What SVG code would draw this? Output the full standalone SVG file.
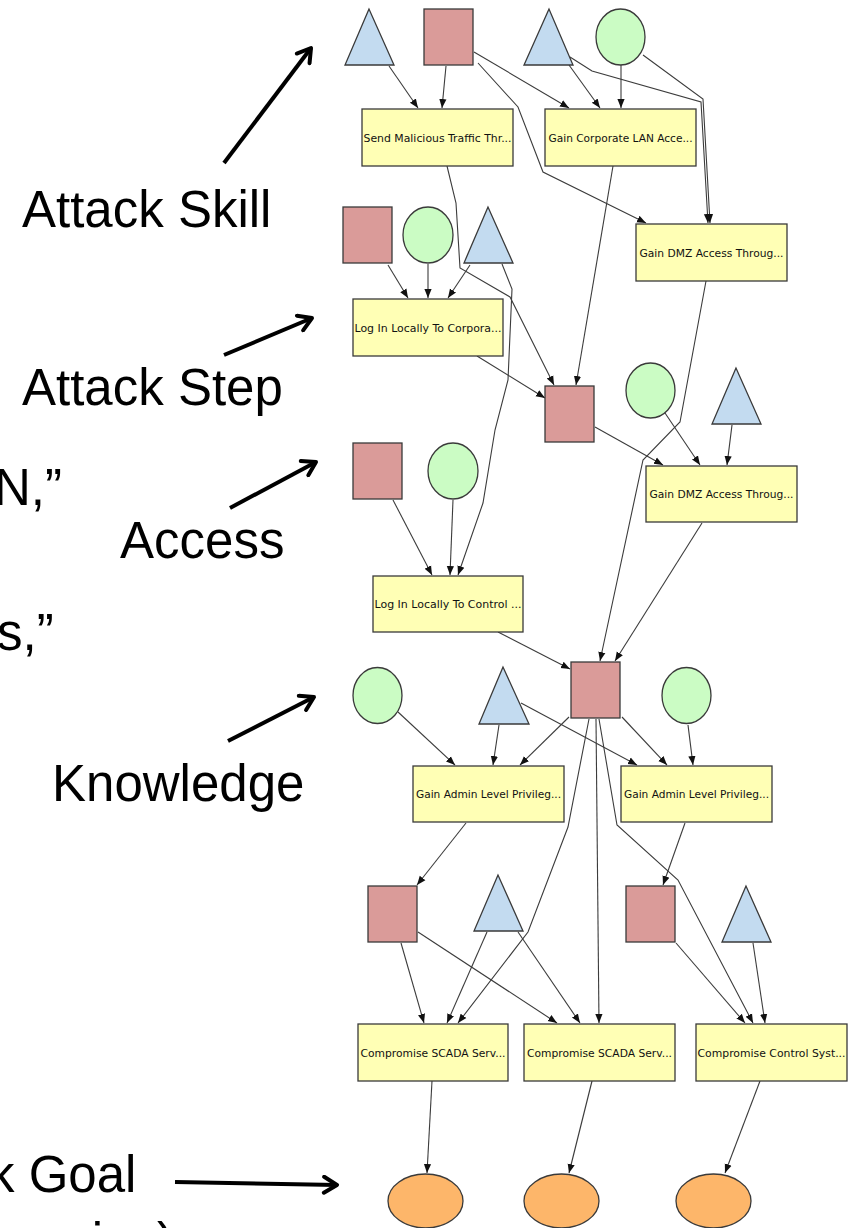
<svg xmlns="http://www.w3.org/2000/svg" width="853" height="1228" viewBox="0 0 853 1228">
<style>
.big{font-family:"Liberation Sans",Arial,sans-serif;font-size:51px;fill:#000}
.ptr{stroke:#000;stroke-width:4;fill:none}
.sq{fill:#da9b99;stroke:#3a3a3a;stroke-width:1.3}
.tri{fill:#c3dbf0;stroke:#3a3a3a;stroke-width:1.3}
.cir{fill:#cbfcc4;stroke:#3a3a3a;stroke-width:1.3}
.box{fill:#ffffb5;stroke:#3a3a3a;stroke-width:1.3}
.goal{fill:#fdb66a;stroke:#3a3a3a;stroke-width:1.3}
.lbl{font-family:"DejaVu Sans",Verdana,sans-serif;font-size:10.5px;fill:#111;text-anchor:middle}
.e{stroke:#3c3c3c;stroke-width:1.1;fill:none;marker-end:url(#ah)}
</style>
<defs>
<marker id="ah" viewBox="0 0 10 10" refX="10" refY="5" markerWidth="9" markerHeight="9" markerUnits="userSpaceOnUse" orient="auto">
<path d="M0,1 L10,5 L0,9 z" fill="#111"/>
</marker>
<marker id="ch" viewBox="0 0 20 20" refX="17" refY="10" markerWidth="20" markerHeight="20" markerUnits="userSpaceOnUse" orient="auto">
<path d="M4,2 L17,10 L4,18" fill="none" stroke="#000" stroke-width="4" stroke-linecap="round" stroke-linejoin="round"/>
</marker>
</defs>
<rect width="853" height="1228" fill="#fff"/>

<g id="annotations">
<text class="big" x="22" y="227">Attack Skill</text>
<text class="big" x="22" y="405">Attack Step</text>
<text class="big" x="-6" y="505">N,”</text>
<text class="big" x="120" y="558">Access</text>
<text class="big" x="-3" y="650">s,”</text>
<text class="big" x="52" y="801">Knowledge</text>
<text class="big" x="-11" y="1192">k Goal</text>
<text class="big" x="174" y="1259" text-anchor="end">promise)</text>
<path class="ptr" d="M224,163 L311,48" marker-end="url(#ch)"/>
<path class="ptr" d="M224,355 L312,318" marker-end="url(#ch)"/>
<path class="ptr" d="M230,508 L316,462" marker-end="url(#ch)"/>
<path class="ptr" d="M228,741 L314,697" marker-end="url(#ch)"/>
<path class="ptr" d="M175,1182 L337,1185" marker-end="url(#ch)"/>
</g>

<g id="connectors">
<path class="e" d="M389,66 L418,108"/>
<path class="e" d="M446,66 L442,108"/>
<path class="e" d="M474,52 L569,108"/>
<path class="e" d="M478,63 L518,107 L543,172 L646,223"/>
<path class="e" d="M569,65 L600,108"/>
<path class="e" d="M621,65 L621,108"/>
<path class="e" d="M570,57 L592,71 L701,102 L708,223"/>
<path class="e" d="M643,55 L703,99 L710,223"/>
<path class="e" d="M447,166 L456,203 L460,268 L510,297 L554,385"/>
<path class="e" d="M613,166 L576,385"/>
<path class="e" d="M388,265 L408,298"/>
<path class="e" d="M428,264 L428,298"/>
<path class="e" d="M470,265 L448,298"/>
<path class="e" d="M502,264 L512,289 L508,380 L495,430 L483,503 L458,575"/>
<path class="e" d="M477,356 L545,398"/>
<path class="e" d="M706,281 L680,422 L643,460 L600,661"/>
<path class="e" d="M665,413 L700,465"/>
<path class="e" d="M595,427 L663,465"/>
<path class="e" d="M732,425 L727,465"/>
<path class="e" d="M393,500 L432,575"/>
<path class="e" d="M453,500 L450,575"/>
<path class="e" d="M498,632 L570,669"/>
<path class="e" d="M702,523 L615,661"/>
<path class="e" d="M398,712 L455,765"/>
<path class="e" d="M499,725 L493,765"/>
<path class="e" d="M521,703 L637,765"/>
<path class="e" d="M569,717 L520,765"/>
<path class="e" d="M622,717 L667,765"/>
<path class="e" d="M688,725 L693,765"/>
<path class="e" d="M589,719 L568,827 L528,932 L458,1023"/>
<path class="e" d="M596,719 L599,1023"/>
<path class="e" d="M599,719 L617,825 L678,880 L753,1023"/>
<path class="e" d="M466,823 L417,885"/>
<path class="e" d="M685,823 L663,885"/>
<path class="e" d="M401,943 L424,1023"/>
<path class="e" d="M418,932 L557,1023"/>
<path class="e" d="M487,932 L447,1023"/>
<path class="e" d="M518,932 L580,1023"/>
<path class="e" d="M676,943 L745,1023"/>
<path class="e" d="M753,943 L765,1023"/>
<path class="e" d="M432,1081 L427,1173"/>
<path class="e" d="M592,1081 L569,1173"/>
<path class="e" d="M760,1081 L725,1173"/>
</g>

<g id="skill1"><polygon class="tri" points="369,9 345,65 394,65"/></g>
<g id="access1"><rect class="sq" x="424" y="9" width="49" height="56"/></g>
<g id="skill2"><polygon class="tri" points="549,9 524,65 573,65"/></g>
<g id="know1"><ellipse class="cir" cx="620.5" cy="37" rx="24.5" ry="28"/></g>

<g id="step1"><rect class="box" x="362" y="109" width="151" height="57"/><text class="lbl" x="437.5" y="141.5" textLength="148" lengthAdjust="spacingAndGlyphs">Send Malicious Traffic Thr...</text></g>
<g id="step2"><rect class="box" x="545" y="109" width="151" height="57"/><text class="lbl" x="620.5" y="141.5" textLength="144" lengthAdjust="spacingAndGlyphs">Gain Corporate LAN Acce...</text></g>
<g id="step3"><rect class="box" x="636" y="224" width="151" height="57"/><text class="lbl" x="711.5" y="256.5" textLength="144" lengthAdjust="spacingAndGlyphs">Gain DMZ Access Throug...</text></g>

<g id="access2"><rect class="sq" x="343" y="207" width="49" height="56"/></g>
<g id="know2"><ellipse class="cir" cx="428" cy="235" rx="25" ry="28"/></g>
<g id="skill3"><polygon class="tri" points="488,207 464,263 513,263"/></g>

<g id="step4"><rect class="box" x="353" y="299" width="150" height="57"/><text class="lbl" x="428" y="331.5" textLength="147" lengthAdjust="spacingAndGlyphs">Log In Locally To Corpora...</text></g>

<g id="access3"><rect class="sq" x="545" y="386" width="49" height="56"/></g>
<g id="know3"><ellipse class="cir" cx="650.5" cy="390.5" rx="24.5" ry="27.5"/></g>
<g id="skill4"><polygon class="tri" points="736,368 712,424 761,424"/></g>

<g id="access4"><rect class="sq" x="353" y="443" width="49" height="56"/></g>
<g id="know4"><ellipse class="cir" cx="453" cy="471" rx="25" ry="28"/></g>

<g id="step5"><rect class="box" x="646" y="466" width="151" height="56"/><text class="lbl" x="721.5" y="498" textLength="144" lengthAdjust="spacingAndGlyphs">Gain DMZ Access Throug...</text></g>

<g id="step6"><rect class="box" x="373" y="576" width="150" height="56"/><text class="lbl" x="448" y="608" textLength="147" lengthAdjust="spacingAndGlyphs">Log In Locally To Control ...</text></g>

<g id="access5"><rect class="sq" x="571" y="662" width="49" height="56"/></g>
<g id="know5"><ellipse class="cir" cx="377.5" cy="695.5" rx="24.5" ry="28"/></g>
<g id="skill5"><polygon class="tri" points="503,667 479,724 529,724"/></g>
<g id="know6"><ellipse class="cir" cx="686.5" cy="695.5" rx="24.5" ry="28"/></g>

<g id="step7"><rect class="box" x="413" y="766" width="151" height="56"/><text class="lbl" x="488.5" y="798" textLength="145" lengthAdjust="spacingAndGlyphs">Gain Admin Level Privileg...</text></g>
<g id="step8"><rect class="box" x="621" y="766" width="151" height="56"/><text class="lbl" x="696.5" y="798" textLength="145" lengthAdjust="spacingAndGlyphs">Gain Admin Level Privileg...</text></g>

<g id="access6"><rect class="sq" x="368" y="886" width="49" height="56"/></g>
<g id="skill6"><polygon class="tri" points="498,875 474,931 523,931"/></g>
<g id="access7"><rect class="sq" x="626" y="886" width="49" height="56"/></g>
<g id="skill7"><polygon class="tri" points="746,886 722,942 771,942"/></g>

<g id="step9"><rect class="box" x="358" y="1024" width="150" height="57"/><text class="lbl" x="433" y="1056.5" textLength="145" lengthAdjust="spacingAndGlyphs">Compromise SCADA Serv...</text></g>
<g id="step10"><rect class="box" x="524" y="1024" width="151" height="57"/><text class="lbl" x="599.5" y="1056.5" textLength="145" lengthAdjust="spacingAndGlyphs">Compromise SCADA Serv...</text></g>
<g id="step11"><rect class="box" x="696" y="1024" width="151" height="57"/><text class="lbl" x="771.5" y="1056.5" textLength="148" lengthAdjust="spacingAndGlyphs">Compromise Control Syst...</text></g>

<g id="goal1"><ellipse class="goal" cx="425.5" cy="1201" rx="37.5" ry="27"/></g>
<g id="goal2"><ellipse class="goal" cx="561.5" cy="1201" rx="37.5" ry="27"/></g>
<g id="goal3"><ellipse class="goal" cx="713.5" cy="1201" rx="37.5" ry="27"/></g>
</svg>
